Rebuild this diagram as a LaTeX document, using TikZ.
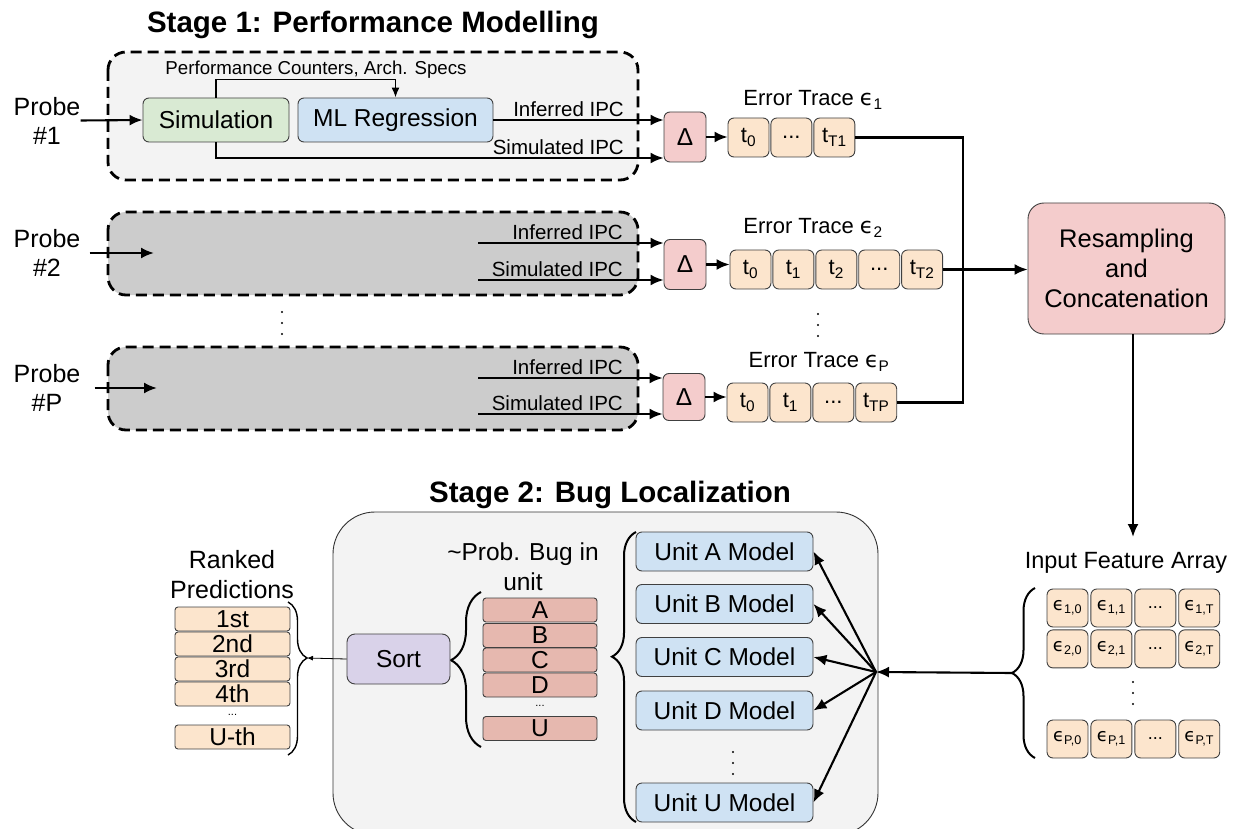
\documentclass[tikz,border=0pt]{standalone}
\usepackage{fontspec}
\setmainfont{Liberation Sans}
\newfontfamily\epsfont{DejaVu Sans}
\usetikzlibrary{positioning,shapes,arrows,arrows.meta,decorations.pathreplacing}

\definecolor{boxgray}{HTML}{F3F3F3}
\definecolor{probegray}{HTML}{CCCCCC}
\definecolor{simgreen}{HTML}{D9EAD3}
\definecolor{mlblue}{HTML}{CFE2F3}
\definecolor{deltapink}{HTML}{F4CCCC}
\definecolor{cellorange}{HTML}{FCE5CD}
\definecolor{sortpurple}{HTML}{D9D2E9}
\definecolor{unitred}{HTML}{E6B8AF}

\newcommand{\eps}{{\epsfont ϵ}}

\tikzset{
  blk/.style={draw=black!75, line width=0.9pt, rounded corners=6pt, inner sep=0pt,
    align=center, font=\fontsize{24.5}{28}\selectfont},
  stagebox/.style={draw, line width=2.8pt, dash pattern=on 11pt off 6pt, rounded corners=18pt},
  cell/.style={blk, fill=cellorange, minimum width=41pt, minimum height=39pt,
    font=\fontsize{22}{26}\selectfont},
  fcell/.style={cell, minimum height=38pt, font=\fontsize{18}{22}\selectfont},
  dbox/.style={blk, fill=deltapink, minimum width=42pt, minimum height=50pt},
  ubox/.style={blk, fill=mlblue, minimum width=177pt, minimum height=39pt},
  pbox/.style={blk, fill=unitred, rounded corners=3pt, minimum width=114pt, minimum height=24pt},
  rbox/.style={blk, fill=cellorange, rounded corners=3pt, minimum width=115pt, minimum height=24pt},
  flow/.style={line width=2.1pt, -{Latex[length=13pt,width=11pt]}},
  plain/.style={font=\fontsize{25}{29}\selectfont, align=center, inner sep=0pt},
  ipc/.style={font=\fontsize{20.5}{24}\selectfont, inner sep=0pt, anchor=south east},
  trace/.style={font=\fontsize{22}{26}\selectfont, inner sep=0pt},
  title/.style={font=\bfseries\fontsize{29.5}{34}\selectfont, inner sep=0pt},
  tiny/.style={font=\fontsize{11}{12}\selectfont, inner sep=0pt},
}

\begin{document}
\begin{tikzpicture}[x=1pt,y=-1pt]
\useasboundingbox (0,0) rectangle (1245,829);

% stage 1
\node[title] (t1) at (373,25) {Stage 1: Performance Modelling};
\draw[stagebox, fill=boxgray] (108,52) rectangle (638,180);
\draw[stagebox, fill=probegray] (108,212) rectangle (638,295);
\draw[stagebox, fill=probegray] (108,347) rectangle (638,430);

\node[plain] (p1) at (47,120.5) {Probe\\\#1};
\node[plain] (p2) at (47,253) {Probe\\\#2};
\node[plain] (pP) at (47,388) {Probe\\\#P};

\node[blk, fill=simgreen, minimum width=146pt, minimum height=44pt] (sim) at (216,120) {Simulation};
\node[blk, fill=mlblue, minimum width=195pt, minimum height=44pt] (ml) at (395.5,120) {ML Regression};
\node[font=\fontsize{18.7}{22}\selectfont, inner sep=0pt] (pc) at (316,70) {Performance Counters, Arch. Specs};

\node[dbox] (d1) at (685,137) {Δ};
\node[dbox] (d2) at (685,264.5) {Δ};
\node[dbox, minimum height=47pt] (dP) at (684,397) {Δ};

\coordinate (in2) at (154,253);
\coordinate (inP) at (157,388);
\coordinate (i2) at (478,243);
\coordinate (s2) at (478,280);
\coordinate (iP) at (478,378);
\coordinate (sP) at (478,414);

\draw[flow] (p1.east) -- (sim.west);
\draw[flow] (p2.east) ++(9,0) -- (in2);
\draw[flow] (pP.east) ++(14,0) -- (inP);
\draw[line width=1.6pt, -{Latex[length=10pt,width=8pt]}] (sim.north) -- ++(0,-18) -| (ml.north);
\draw[flow] (ml.east) -- (d1.west |- ml.east);
\draw[flow] (sim.south) |- (d1.west |- 0,158);
\draw[flow] (i2) -- (d2.west |- i2);
\draw[flow] (s2) -- (d2.west |- s2);
\draw[flow] (iP) -- (dP.west |- iP);
\draw[flow] (sP) -- (dP.west |- sP);

\node[ipc] at (624,117) {Inferred IPC};
\node[ipc] at (624,155) {Simulated IPC};
\node[ipc] at (623,240) {Inferred IPC};
\node[ipc] at (623,277) {Simulated IPC};
\node[ipc] at (623,375) {Inferred IPC};
\node[ipc] at (623,411) {Simulated IPC};

% dots between probes and traces
\foreach \y in {312,323,334} \fill (282,\y) circle (1.1pt);
\foreach \y in {314,325,336} \fill (818,\y) circle (1.1pt);

% error traces
\node[cell] (a0) at (748.5,137.5) {t\textsubscript{0}};
\node[cell, right=1pt of a0] (a1) {...};
\node[cell, right=1pt of a1] (a2) {t\textsubscript{T1}};
\node[trace] (e1) at (813,100) {Error Trace \eps\textsubscript{1}};

\node[cell] (b0) at (750.5,269.5) {t\textsubscript{0}};
\node[cell, right=1pt of b0] (b1) {t\textsubscript{1}};
\node[cell, right=1pt of b1] (b2) {t\textsubscript{2}};
\node[cell, right=1pt of b2] (b3) {...};
\node[cell, right=1pt of b3] (b4) {t\textsubscript{T2}};
\node[trace] (e2) at (813,228) {Error Trace \eps\textsubscript{2}};

\node[cell] (c0) at (747.5,402.5) {t\textsubscript{0}};
\node[cell, right=1pt of c0] (c1) {t\textsubscript{1}};
\node[cell, right=1pt of c1] (c2) {...};
\node[cell, right=1pt of c2] (c3) {t\textsubscript{TP}};
\node[trace] (eP) at (819,362) {Error Trace \eps\textsubscript{P}};

\draw[flow] (d1.east) -- (d1.east -| a0.west);
\draw[flow] (d2.east) -- (d2.east -| b0.west);
\draw[flow] (dP.east) -- (dP.east -| c0.west);

\node[blk, fill=deltapink, rounded corners=16pt, minimum width=197pt, minimum height=131pt,
  font=\fontsize{25.5}{30}\selectfont] (rs) at (1126.5,268.5) {Resampling\\and\\Concatenation};
\draw[line width=2.1pt] (a2.east) -- ++(108,0) |- (c3.east);
\draw[flow] (b4.east) -- (rs.west |- b4.east);

% feature array
\coordinate (fa) at (1133,537);
\draw[flow] (rs.south -| fa) -- (fa);
\node[font=\fontsize{23.5}{27}\selectfont, inner sep=0pt] (ifa) at (1126,563) {Input Feature Array};

\node[fcell] (f10) at (1067.5,608) {\eps\textsubscript{1,0}};
\node[fcell, right=2pt of f10] (f11) {\eps\textsubscript{1,1}};
\node[fcell, right=2pt of f11] (f12) {...};
\node[fcell, right=2pt of f12] (f13) {\eps\textsubscript{1,T}};
\node[fcell, below=2pt of f10] (f20) {\eps\textsubscript{2,0}};
\node[fcell, right=2pt of f20] (f21) {\eps\textsubscript{2,1}};
\node[fcell, right=2pt of f21] (f22) {...};
\node[fcell, right=2pt of f22] (f23) {\eps\textsubscript{2,T}};
\node[fcell] (fP0) at (1067.5,739) {\eps\textsubscript{P,0}};
\node[fcell, right=2pt of fP0] (fP1) {\eps\textsubscript{P,1}};
\node[fcell, right=2pt of fP1] (fP2) {...};
\node[fcell, right=2pt of fP2] (fP3) {\eps\textsubscript{P,T}};
\foreach \y in {682,693,704} \fill (1133,\y) circle (1.1pt);
\draw[decorate, decoration={brace, amplitude=23pt}, line width=2pt] (1035,758) -- (1035,588);

% stage 2
\node[title] (t2) at (610,495) {Stage 2: Bug Localization};
\draw[draw=black!80, line width=0.9pt, fill=boxgray, rounded corners=42pt] (333,512) rectangle (878,835);

\node[ubox] (ua) at (724.5,551.5) {Unit A Model};
\node[ubox] (ub) at (724.5,604) {Unit B Model};
\node[ubox] (uc) at (724.5,657) {Unit C Model};
\node[ubox] (ud) at (724.5,710.5) {Unit D Model};
\node[ubox] (uu) at (724.5,802.5) {Unit U Model};
\foreach \y in {752,763,774} \fill (733,\y) circle (1.1pt);
\draw[decorate, decoration={brace, amplitude=24pt, aspect=0.57}, line width=2pt] (636,822) -- (636,532);

\coordinate (fan) at (876,672);
\coordinate (ftip) at (1012,673);
\draw[flow] (ftip) -- (fan);
\draw[flow] (fan) -- (ua.east);
\draw[flow] (fan) -- (ub.east);
\draw[flow] (fan) -- (uc.east);
\draw[flow] (fan) -- (ud.east);
\draw[flow] (fan) -- (uu.east);

\node[plain, font=\fontsize{24.5}{30}\selectfont] (pl) at (523,567) {\textasciitilde Prob. Bug in\\unit};
\node[pbox] (pa) at (540,610) {A};
\node[pbox] (pb) at (540,635.5) {B};
\node[pbox] (pcc) at (540,660) {C};
\node[pbox] (pd) at (540,685) {D};
\node[tiny] (dots5) at (540,706) {...};
\node[pbox] (pu) at (540,728.5) {U};
\draw[decorate, decoration={brace, amplitude=30pt, aspect=0.56}, line width=2pt] (481,747) -- (481,592);

\node[blk, fill=sortpurple, rounded corners=8pt, minimum width=103pt, minimum height=50pt] (srt) at (398.5,659) {Sort};

\node[plain, font=\fontsize{25}{30}\selectfont] (rl) at (232,575) {Ranked\\Predictions};
\node[rbox] (r1) at (232.5,619) {1st};
\node[rbox] (r2) at (232.5,644) {2nd};
\node[rbox] (r3) at (232.5,669) {3rd};
\node[rbox] (r4) at (232.5,694) {4th};
\node[tiny] (dots6) at (232.5,715) {...};
\node[rbox] (ru) at (232.5,737) {U-th};
\draw[decorate, decoration={brace, amplitude=19pt, aspect=0.366}, line width=1.4pt] (288,602) -- (288,755);
\coordinate (rtip) at (307,658);
\draw[line width=0.8pt, -{Latex[length=6pt,width=5pt]}] (srt.west) -- (rtip);
\end{tikzpicture}
\end{document}
